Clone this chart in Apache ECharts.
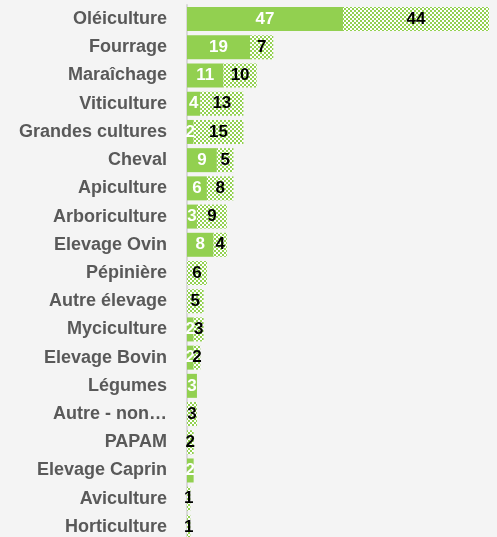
<!DOCTYPE html>
<html>
<head>
<meta charset="utf-8">
<script src="https://cdn.jsdelivr.net/npm/echarts@6/dist/echarts.min.js"></script>
<style>
  html, body { margin: 0; padding: 0; background: #f4f4f4; }
  #chart { width: 497px; height: 537px; }
</style>
</head>
<body>
<div id="chart"></div>
<script>
// catégories, de haut en bas
const categories = ['Oléiculture', 'Fourrage', 'Maraîchage', 'Viticulture', 'Grandes cultures',
  'Cheval', 'Apiculture', 'Arboriculture', 'Elevage Ovin', 'Pépinière', 'Autre élevage',
  'Myciculture', 'Elevage Bovin', 'Légumes', 'Autre - non…', 'PAPAM', 'Elevage Caprin',
  'Aviculture', 'Horticulture'];
// série pleine (vert)
const solidValues = [47, 19, 11, 4, 2, 9, 6, 3, 8, 0, 0, 2, 2, 3, 0, 0, 2, 0, 0];
// série hachurée (damier)
const patternValues = [44, 7, 10, 13, 15, 5, 8, 9, 4, 6, 5, 3, 2, 0, 3, 2, 0, 1, 1];

const GREEN = '#92d050';

// petit damier 2px pour la 2e série
function makeChecker() {
  let c = document.createElement('canvas');
  c.width = 4; c.height = 4;
  let ctx = c.getContext('2d');
  ctx.fillStyle = '#ffffff';
  ctx.fillRect(0, 0, 4, 4);
  ctx.fillStyle = GREEN;
  ctx.fillRect(0, 0, 2, 2);
  ctx.fillRect(2, 2, 2, 2);
  return c;
}

const hideZero = p => (p.value ? p.value : '');

let chart = echarts.init(document.getElementById('chart'));
chart.setOption({
  backgroundColor: '#f4f4f4',
  animation: false,
  grid: { left: 187, right: 8, top: 5, height: 536, outerBoundsMode: 'none' },
  xAxis: {
    type: 'value', min: 0, max: 91,
    show: false
  },
  yAxis: {
    type: 'category',
    data: categories,
    inverse: true,
    axisLine: { show: true, lineStyle: { color: '#d9d9d9', width: 2 } },
    axisTick: { show: false },
    axisLabel: {
      margin: 20,
      color: '#595959',
      fontFamily: 'Liberation Sans',
      fontWeight: 'bold',
      fontSize: 18
    }
  },
  series: [
    {
      type: 'bar', stack: 'tot', data: solidValues,
      barWidth: 24,
      itemStyle: { color: GREEN },
      label: {
        show: true, position: 'inside', formatter: hideZero,
        color: '#ffffff', fontFamily: 'Liberation Sans', fontWeight: 'bold', fontSize: 17
      }
    },
    {
      type: 'bar', stack: 'tot', data: patternValues,
      barWidth: 24,
      itemStyle: { color: { image: makeChecker(), repeat: 'repeat' } },
      label: {
        show: true, position: 'inside', formatter: hideZero,
        color: '#000000', fontFamily: 'Liberation Sans', fontWeight: 'bold', fontSize: 17
      }
    }
  ]
});
</script>
</body>
</html>
